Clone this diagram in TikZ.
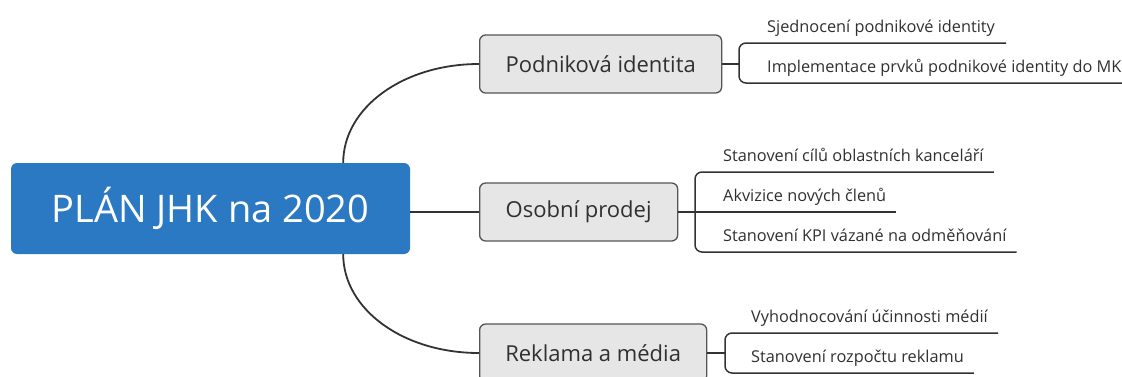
\documentclass[tikz,border=0pt]{standalone}
\usepackage{fontspec}
\setmainfont{Open Sans}
\usetikzlibrary{calc}
\definecolor{rootblue}{HTML}{2B78C3}
\definecolor{boxgray}{HTML}{E6E6E6}
\definecolor{edgegray}{HTML}{555555}
\definecolor{linegray}{HTML}{333333}
\definecolor{textgray}{HTML}{303030}
\begin{document}
\begin{tikzpicture}[x=1pt,y=-1pt,
  rootbox/.style={fill=rootblue, rounded corners=6pt, minimum width=399pt,
    minimum height=91pt, inner sep=0pt, text=white,
    font=\fontsize{38}{46}\selectfont},
  topicbox/.style={fill=boxgray, draw=edgegray, line width=1.3pt,
    rounded corners=6pt, minimum height=58pt, inner sep=0pt, anchor=west,
    text=textgray, font=\fontsize{22}{26}\selectfont},
  itemtext/.style={anchor=base west, inner sep=0pt, text=textgray,
    font=\fontsize{16.3}{19}\selectfont},
  link/.style={draw=linegray, line width=1.8pt},
  brace/.style={draw=linegray, line width=1.5pt, rounded corners=7pt},
]
\useasboundingbox (0,0) rectangle (1122,376);

% central topic
\node[rootbox] (root) at (210.5,208.5) {PLÁN JHK na 2020};

% main topics
\node[topicbox, minimum width=242pt] (pi) at (479,64) {Podniková identita};
\node[topicbox, minimum width=198pt] (op) at (479,212) {Osobní prodej};
\node[topicbox, minimum width=227pt] (rm) at (479,353) {Reklama a média};

% links from the central topic
\draw[link] ($(root.north east)+(-67,0)$)
  .. controls ($(root.north east)+(-67,-55)$) and ($(pi.west)+(-76,0)$) .. (pi.west);
\draw[link] (root.east |- op.west) -- (op.west);
\draw[link] ($(root.south east)+(-67,0)$)
  .. controls ($(root.south east)+(-67,55)$) and ($(rm.west)+(-76,0)$) .. (rm.west);

% subtopics: Podniková identita
\node[itemtext] (pi1) at (767,32) {Sjednocení podnikové identity};
\node[itemtext] (pi2) at (767,72) {Implementace prvků podnikové identity do MK};
\coordinate (pij) at (739,64);
\coordinate (pit) at (739,43);
\coordinate (pib) at (739,83);
\draw[link] (pi.east) -- (pij);
\draw[brace] ($(pi1.base east)+(11,11)$) -- (pit) -- (pib) -- ($(pi2.base east)+(11,11)$);

% subtopics: Osobní prodej
\node[itemtext] (op1) at (723,161) {Stanovení cílů oblastních kanceláří};
\node[itemtext] (op2) at (723,201) {Akvizice nových členů};
\node[itemtext] (op3) at (723,241) {Stanovení KPI vázané na odměňování};
\coordinate (opt) at (695,172);
\coordinate (opb) at (695,252);
\draw[link] (op.east) -- ($(op2.base east)+(10,11)$);
\draw[brace] ($(op1.base east)+(10,11)$) -- (opt) -- (opb) -- ($(op3.base east)+(10,11)$);

% subtopics: Reklama a média
\node[itemtext] (rm1) at (751,322) {Vyhodnocování účinnosti médií};
\node[itemtext] (rm2) at (751,362) {Stanovení rozpočtu reklamu};
\coordinate (rmj) at (725,353);
\coordinate (rmt) at (725,333);
\coordinate (rmb) at (725,373);
\draw[link] (rm.east) -- (rmj);
\draw[brace] ($(rm1.base east)+(10,11)$) -- (rmt) -- (rmb) -- ($(rm2.base east)+(10,11)$);
\end{tikzpicture}
\end{document}
